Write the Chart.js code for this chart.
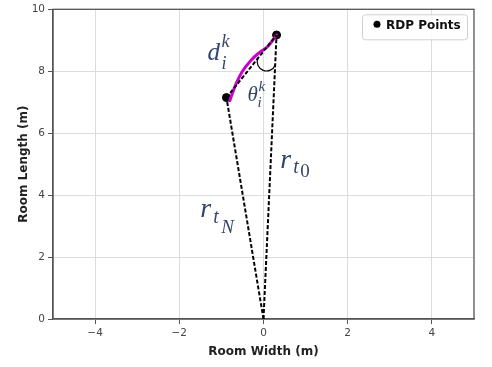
<!DOCTYPE html>
<html><head><meta charset="utf-8">
<script src="https://cdn.jsdelivr.net/npm/chart.js@4"></script>
<style>html,body{margin:0;padding:0;background:#fff}#wrap{width:492px;height:367px}</style>
</head><body><div id="wrap"><canvas id="c" width="492" height="367"></canvas></div>
<script>
// ---- data ----
const xTicks = [-4, -2, 0, 2, 4];
const yTicks = [0, 2, 4, 6, 8, 10];
const origin = {x: 0, y: 0};
const rdpX = [0.31, -0.88];
const rdpY = [9.17, 7.15];
const curveX = [-0.8, -0.65, -0.5, -0.3, -0.1, 0.1, 0.31];
const curveY = [7.05, 7.6, 8.0, 8.35, 8.6, 8.8, 9.17];
const legendLabel = 'RDP Points';
const xTitle = 'Room Width (m)';
const yTitle = 'Room Length (m)';

const ptTop = {x: rdpX[0], y: rdpY[0]};
const ptLeft = {x: rdpX[1], y: rdpY[1]};

const dashStyle = {borderColor: '#000', borderWidth: 2, borderDash: [4, 2], pointRadius: 0, showLine: true, fill: false, tension: 0};

const datasets = [
  Object.assign({label: 'r0', data: [origin, ptTop]}, dashStyle),
  Object.assign({label: 'rN', data: [origin, ptLeft]}, dashStyle),
  Object.assign({label: 'chord', data: [ptLeft, ptTop]}, dashStyle),
  {label: 'curve', data: curveX.map((v, i) => ({x: v, y: curveY[i]})), showLine: true, borderColor: '#cc00cc', borderWidth: 3, pointRadius: 0, tension: 0.4, fill: false, borderCapStyle: 'round'},
  {label: legendLabel, data: rdpX.map((v, i) => ({x: v, y: rdpY[i]})), showLine: false, backgroundColor: '#000', borderColor: '#000', pointRadius: 4}
];

const annoColor = '#34466e';
const serif = "'Liberation Serif', 'DejaVu Serif', serif";

function drawMath(ctx, x, y, parts) {
  parts.forEach(p => {
    ctx.font = (p.italic ? 'italic ' : '') + p.size + 'px ' + serif;
    ctx.fillText(p.t, x + p.dx, y + p.dy);
  });
}

const annoPlugin = {
  id: 'anno',
  beforeDatasetsDraw(chart) {
    const {ctx, chartArea: a} = chart;
    ctx.save();
    ctx.strokeStyle = '#555';
    ctx.lineWidth = 1.3;
    ctx.strokeRect(a.left, a.top, a.right - a.left, a.bottom - a.top);
    ctx.restore();
  },
  afterDatasetsDraw(chart) {
    const {ctx, scales: {x, y}} = chart;
    ctx.save();
    // angle marker between chord and r_t0 at the top point
    const cx = x.getPixelForValue(ptTop.x), cy = y.getPixelForValue(ptTop.y);
    const ox = x.getPixelForValue(0), oy = y.getPixelForValue(0);
    const lx = x.getPixelForValue(ptLeft.x), ly = y.getPixelForValue(ptLeft.y);
    const d = 30;
    const l1 = Math.hypot(lx - cx, ly - cy), l2 = Math.hypot(ox - cx, oy - cy);
    const p1 = {x: cx + (lx - cx) / l1 * d, y: cy + (ly - cy) / l1 * d};
    const p2 = {x: cx + (ox - cx) / l2 * d, y: cy + (oy - cy) / l2 * d};
    const mx = (p1.x + p2.x) / 2, my = (p1.y + p2.y) / 2;
    const r = Math.hypot(p2.x - p1.x, p2.y - p1.y) / 2;
    const s = Math.atan2(p1.y - my, p1.x - mx), e = Math.atan2(p2.y - my, p2.x - mx);
    ctx.beginPath();
    ctx.arc(mx, my, r, s, e, true);
    ctx.strokeStyle = '#000';
    ctx.lineWidth = 1.2;
    ctx.stroke();

    ctx.fillStyle = annoColor;
    ctx.textBaseline = 'alphabetic';
    ctx.textAlign = 'left';
    drawMath(ctx, x.getPixelForValue(0.40), y.getPixelForValue(4.87), [
      {t: 'r', size: 28, italic: true, dx: 0, dy: 0},
      {t: 't', size: 20, italic: true, dx: 13, dy: 5},
      {t: '0', size: 19, italic: false, dx: 20, dy: 9}
    ]);
    drawMath(ctx, x.getPixelForValue(-1.5), y.getPixelForValue(3.3), [
      {t: 'r', size: 28, italic: true, dx: 0, dy: 0},
      {t: 't', size: 20, italic: true, dx: 13, dy: 6},
      {t: 'N', size: 19, italic: true, dx: 21, dy: 16}
    ]);
    drawMath(ctx, x.getPixelForValue(-1.33), y.getPixelForValue(8.37), [
      {t: 'd', size: 25, italic: true, dx: 0, dy: 0},
      {t: 'k', size: 18, italic: true, dx: 14, dy: -13},
      {t: 'i', size: 18, italic: true, dx: 14, dy: 9}
    ]);
    drawMath(ctx, x.getPixelForValue(-0.38), y.getPixelForValue(7.05), [
      {t: 'θ', size: 21, italic: true, dx: 0, dy: 0},
      {t: 'k', size: 15, italic: true, dx: 11, dy: -10},
      {t: 'i', size: 15, italic: true, dx: 10, dy: 6}
    ]);
    ctx.restore();
  },
  afterDraw(chart) {
    const {ctx, chartArea: a} = chart;
    ctx.save();
    const w = 105, h = 25;
    const bx = a.right - 7 - w, by = a.top + 5;
    ctx.beginPath();
    if (ctx.roundRect) ctx.roundRect(bx + 0.5, by + 0.5, w, h, 3); else ctx.rect(bx + 0.5, by + 0.5, w, h);
    ctx.fillStyle = 'rgba(255,255,255,0.85)';
    ctx.fill();
    ctx.strokeStyle = '#d0d0d0';
    ctx.lineWidth = 1;
    ctx.stroke();
    ctx.beginPath();
    ctx.arc(bx + 15, by + 10, 3.5, 0, Math.PI * 2);
    ctx.fillStyle = '#000';
    ctx.fill();
    ctx.font = "bold 12px 'DejaVu Sans', sans-serif";
    ctx.fillStyle = '#111';
    ctx.textBaseline = 'middle';
    ctx.fillText(legendLabel, bx + 24, by + 12);
    ctx.restore();
  }
};

const minus = v => String(v).replace('-', '\u2212');

new Chart(document.getElementById('c'), {
  type: 'scatter',
  data: {datasets},
  options: {
    responsive: false,
    animation: false,
    devicePixelRatio: 1,
    layout: {padding: {top: 7, right: 18, left: 0, bottom: 0}},
    plugins: {legend: {display: false}, tooltip: {enabled: false}},
    scales: {
      x: {
        type: 'linear', min: -5, max: 5,
        afterBuildTicks: s => { s.ticks = xTicks.map(v => ({value: v})); },
        afterFit: s => { s.height = 48; },
        grid: {color: '#dcdcdc', lineWidth: 1, tickColor: '#555', tickLength: 5},
        border: {color: '#555', width: 1.3},
        ticks: {color: '#444', font: {family: "'DejaVu Sans', sans-serif", size: 10.5}, padding: 3, maxRotation: 0, callback: v => minus(v)},
        title: {display: true, text: xTitle, color: '#222', font: {family: "'DejaVu Sans', sans-serif", size: 12, weight: 'bold'}, padding: {top: 2, bottom: 8}}
      },
      y: {
        type: 'linear', min: 0, max: 10,
        afterBuildTicks: s => { s.ticks = yTicks.map(v => ({value: v})); },
        afterFit: s => { s.width = 53; },
        grid: {color: '#dcdcdc', lineWidth: 1, tickColor: '#555', tickLength: 5},
        border: {color: '#555', width: 1.3},
        ticks: {color: '#444', font: {family: "'DejaVu Sans', sans-serif", size: 10.5}, padding: 3, callback: v => minus(v)},
        title: {display: true, text: yTitle, color: '#222', font: {family: "'DejaVu Sans', sans-serif", size: 12, weight: 'bold'}, padding: {top: 17, bottom: 2}}
      }
    }
  },
  plugins: [annoPlugin]
});
</script>
</body></html>
